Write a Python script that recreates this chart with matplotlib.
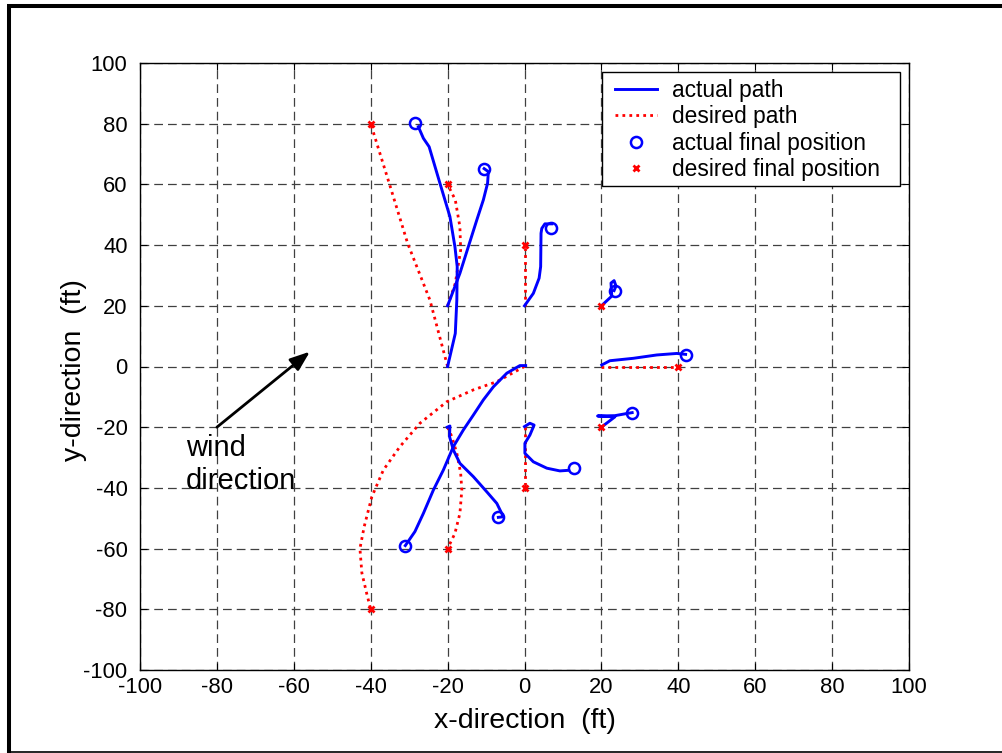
import matplotlib
matplotlib.use("Agg")
import matplotlib.pyplot as plt
from matplotlib.lines import Line2D
from matplotlib.patches import Rectangle

plt.rcParams['font.family'] = ['Liberation Sans', 'DejaVu Sans']
plt.rcParams['axes.unicode_minus'] = False

# ---- data (ft) ----
# trajectory A: start (-20, 0)
actA_x = [-20, -18.0, -17.6, -17.5, -18.1, -19.4, -22.0, -24.8, -26.3, -27.6]
actA_y = [0, 10.9, 21.9, 32.9, 39.5, 49.4, 60.4, 72.4, 75.2, 79.0]
desA_x = [-20, -24.6, -30.4, -34.9, -40]
desA_y = [0, 21.9, 40.6, 59.2, 80]
# trajectory B: start (-20, 20)
actB_x = [-20, -16.8, -14.6, -12.4, -10.7, -9.6, -9.4, -10.5]
actB_y = [20, 30.7, 39.5, 48.3, 54.9, 60.4, 64.2, 65.2]
desB_x = [-20, -18.0, -16.6, -16.8, -18.0, -20]
desB_y = [20, 27.4, 38.4, 46.0, 54.9, 60]
# trajectory C: start (0, 20)
actC_x = [0, 2.3, 3.8, 4.2, 4.3, 4.5, 5.3, 7.1]
actC_y = [20, 24.1, 29.1, 32.9, 43.9, 45.5, 47.0, 47.0]
desC_x = [0, 0]
desC_y = [20, 40]
# trajectory D: start (20, 20)
actD_x = [20, 22.7, 22.5, 23.3, 23.8, 23.3]
actD_y = [20, 23.2, 27.5, 28.3, 26.5, 25.0]
desD_x = [20]
desD_y = [20]
# trajectory E: start (20, 0)
actE_x = [20.1, 22.2, 28.3, 34.4, 39.6, 41.9]
actE_y = [0.5, 1.9, 2.7, 3.8, 4.3, 4.0]
desE_x = [20, 40]
desE_y = [0, 0]
# trajectory F: start (20, -20)
actF_x = [20, 23.5, 19.0, 23.5, 27.0, 28.0]
actF_y = [-20, -16.6, -16.3, -16.2, -15.4, -15.2]
desF_x = [20]
desF_y = [-20]
# trajectory G: start (0, 0)
actG_x = [0.3, -1.2, -4.6, -8.1, -10.7, -13.3, -15.9, -18.5, -21.1, -23.7, -26.3, -28.5, -31.0]
actG_y = [0.3, 0.3, -2.2, -6.7, -11.0, -16.0, -20.9, -26.4, -34.1, -40.7, -48.4, -54.4, -59.0]
desG_x = [0, -7.2, -13.3, -20.2, -27.2, -32.4, -36.7, -39.7, -41.7, -42.8, -42.3, -41.0, -40]
desG_y = [0, -5.0, -7.7, -11.6, -18.7, -26.4, -34.1, -42.9, -52.8, -60.0, -68.0, -75.0, -80]
# trajectory H: start (-20, -20)
actH_x = [-20.1, -19.4, -19.5, -18.5, -16.8, -13.3, -9.8, -7.2, -5.5, -6.8]
actH_y = [-20, -19.6, -23.1, -27.5, -31.9, -36.3, -41.3, -45.1, -49.5, -49.7]
desH_x = [-20, -18.9, -17.6, -16.6, -16.3, -16.8, -18.1, -20]
desH_y = [-20, -23.1, -28.6, -35.2, -40.7, -48.4, -55.0, -60]
# trajectory I: start (0, -20)
actI_x = [0, 1.4, 2.5, 1.4, 0.1, 0.1, 2.3, 5.8, 9.2, 11.5]
actI_y = [-19.8, -18.7, -19.3, -22.6, -25.3, -28.6, -31.4, -33.5, -34.4, -34.2]
desI_x = [0, 0]
desI_y = [-20, -40]

# final positions
act_final_x = [-28.6, -10.5, 6.8, 23.5, 41.9, 28.0, -31.0, -6.8, 12.9]
act_final_y = [80.3, 65.2, 45.5, 25.0, 3.9, -15.2, -59.2, -49.7, -33.3]
des_final_x = [-40, -20, 0, 20, 40, 20, -40, -20, 0]
des_final_y = [80, 60, 40, 20, 0, -20, -80, -60, -40]

ticks = [-100, -80, -60, -40, -20, 0, 20, 40, 60, 80, 100]

actual_paths = [(actA_x, actA_y), (actB_x, actB_y), (actC_x, actC_y), (actD_x, actD_y),
                (actE_x, actE_y), (actF_x, actF_y), (actG_x, actG_y), (actH_x, actH_y),
                (actI_x, actI_y)]
desired_paths = [(desA_x, desA_y), (desB_x, desB_y), (desC_x, desC_y), (desD_x, desD_y),
                 (desE_x, desE_y), (desF_x, desF_y), (desG_x, desG_y), (desH_x, desH_y),
                 (desI_x, desI_y)]

BLUE = '#0000FF'
RED = '#FF0000'
W, H = 1002, 753

fig = plt.figure(figsize=(W/100, H/100), dpi=100)
ax = fig.add_axes([140/W, (H-670)/H, 769/W, 607/H])

dotted = (0, (1, 1.5))
for i, ((ax_x, ax_y), (dx, dy)) in enumerate(zip(actual_paths, desired_paths)):
    ax.plot(ax_x, ax_y, color=BLUE, lw=2.1, zorder=3,
            label='actual path' if i == 0 else None)
    ax.plot(dx, dy, color=RED, lw=2, linestyle=dotted, zorder=2,
            label='desired path' if i == 0 else None)

ax.plot(act_final_x, act_final_y, linestyle='none', marker='o', ms=8,
        mfc='none', mec=BLUE, mew=1.8, zorder=4, label='actual final position')
ax.plot(des_final_x, des_final_y, linestyle='none', marker='x', ms=5,
        mec=RED, mew=2, zorder=4, label='desired final position')

ax.set_xlim(-100, 100)
ax.set_ylim(-100, 100)
ax.set_xticks(ticks)
ax.set_yticks(ticks)
ax.tick_params(direction='in', length=5, width=0.8, labelsize=15.8,
               top=True, right=True)
ax.tick_params(axis='x', pad=5)
ax.tick_params(axis='y', pad=9)
ax.grid(True, color='0.25', linestyle=(0, (7, 4)), lw=0.9)
ax.set_axisbelow(True)
for s in ax.spines.values():
    s.set_linewidth(1.0)

ax.set_xlabel('x-direction  (ft)', fontsize=20.5, labelpad=7.5)
ax.set_ylabel('y-direction  (ft)', fontsize=20.5)
ax.yaxis.set_label_coords((87-140)/769, (670-370.5)/607)

# wind arrow
ax.annotate('', xy=(-55.8, 4.9), xytext=(-80, -20),
            arrowprops=dict(arrowstyle='-|>,head_length=0.8,head_width=0.3',
                            color='k', lw=2, mutation_scale=15,
                            shrinkA=0, shrinkB=0), zorder=5)
ax.text(-88, -29.6, 'wind', fontsize=21, va='baseline', ha='left', zorder=5)
ax.text(-88, -40.4, 'direction', fontsize=21, va='baseline', ha='left', zorder=5)

# legend (frame drawn as a separate rectangle)
ax.add_patch(Rectangle((602/W, (H-186)/H), 298/W, 114/H, transform=fig.transFigure,
                       facecolor='white', edgecolor='k', lw=1.0, clip_on=False, zorder=6))
leg = ax.legend(loc='upper left', bbox_to_anchor=(615/W, (H-79)/H),
                bbox_transform=fig.transFigure, borderaxespad=0, borderpad=0,
                fontsize=16.4, frameon=False,
                handlelength=1.84, handletextpad=0.66, labelspacing=0.15)
leg.set_zorder(7)

# figure border
fig.add_artist(Line2D([9.3/W, 9.3/W], [0, 1-6/H], transform=fig.transFigure,
                      color='k', lw=2.9, solid_capstyle='butt'))
fig.add_artist(Line2D([7.3/W, 1], [1-6/H, 1-6/H], transform=fig.transFigure,
                      color='k', lw=2.9, solid_capstyle='butt'))
fig.add_artist(Line2D([7.3/W, 1], [1.2/H, 1.2/H], transform=fig.transFigure,
                      color='k', lw=1.2, solid_capstyle='butt'))

fig.savefig('out.png', dpi=100)
